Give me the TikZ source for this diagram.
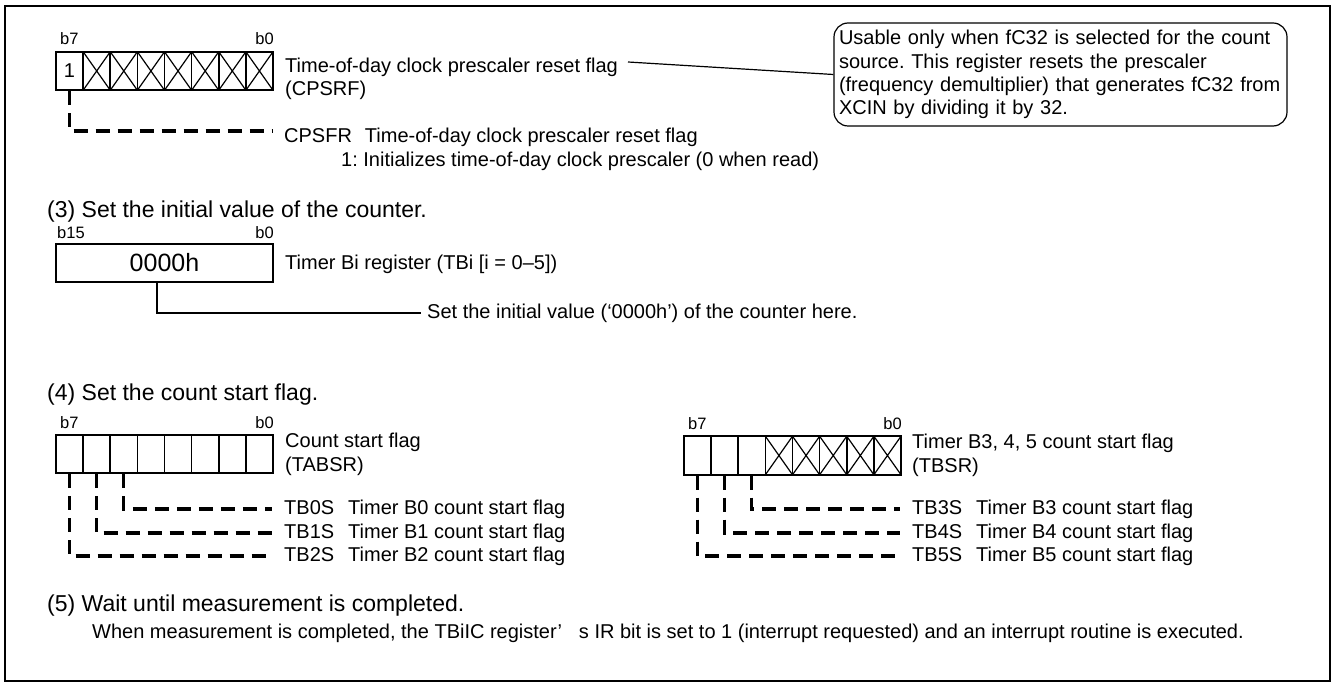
\documentclass[tikz,border=0pt]{standalone}
\usepackage{fontspec}
\setmainfont{Liberation Sans}

\newcommand{\flaggap}{\hspace{0.7em}}

\begin{document}
\frenchspacing
\begin{tikzpicture}[
    x=1pt, y=-1pt,
    cell/.style={draw, line width=1.6pt, minimum width=27.125pt, minimum height=38.5pt, inner sep=0pt},
    xcell/.style={cell, path picture={
        \draw[line width=1.2pt] (path picture bounding box.north west) -- (path picture bounding box.south east)
            (path picture bounding box.north east) -- (path picture bounding box.south west);}},
    bitlbl/.style={inner sep=0pt, font=\fontsize{16.5}{19}\selectfont},
    lbl/.style={anchor=west, inner sep=0pt, align=left, font=\fontsize{20}{23.5}\selectfont},
    heading/.style={anchor=west, inner sep=0pt, font=\fontsize{23}{27}\selectfont},
    flagline/.style={line width=3.2pt, dash pattern=on 14pt off 8pt, shorten >=12pt}
]
    \useasboundingbox (0,0) rectangle (1338,684);
    % Frame
    \draw[line width=2.8pt] (5,6) rectangle (1330,681);

    % Prescaler reset register
    \node[cell, font=\fontsize{20}{23}\selectfont] (cps0) at (69.56,71) {1};
    \foreach \i in {1,...,7} {
        \node[xcell] (cps\i) at ({69.56+27.125*\i},71) {};
    }
    \node[bitlbl, anchor=base west] (cpsb7) at (60,45) {b7};
    \node[bitlbl, anchor=base east] (cpsb0) at (274,45) {b0};
    \node[lbl] (cpsrf) at (285,79) {Time-of-day clock prescaler reset flag\\(CPSRF)};
    \node[lbl] (cpsfr) at (284,137) {CPSFR\hspace{0.65em}Time-of-day clock prescaler reset flag};
    \node[lbl] (cpsfrval) at (341,161) {1: Initializes time-of-day clock prescaler (0 when read)};
    \draw[flagline] (cps0.south) |- ([yshift=6pt]cpsfr.west);

    % Note
    \node[draw, line width=1.2pt, rounded corners=14pt, minimum width=453pt, minimum height=103pt,
        text width=443pt, inner xsep=5pt, align=left, font=\fontsize{20}{23.3}\selectfont] (note) at (1060.5,74.5)
        {Usable only when fC32 is selected for the count\\
         source. This register resets the prescaler\\
         (frequency demultiplier) that generates fC32 from\\
         XCIN by dividing it by 32.};
    \coordinate (cpsrfend) at (628,62);
    \draw[line width=1.2pt] (cpsrfend) -- (note.west);

    % (3) Timer Bi register
    \node[heading] (step3) at (47,212) {(3) Set the initial value of the counter.};
    \node[draw, line width=1.6pt, minimum width=217pt, minimum height=38.5pt, inner sep=0pt,
        font=\fontsize{25}{28}\selectfont] (tbreg) at (164.5,263) {0000h};
    \node[bitlbl, anchor=base west] (tbb15) at (57,239) {b15};
    \node[bitlbl, anchor=base east] (tbb0) at (274,239) {b0};
    \node[lbl] (tbname) at (285,264) {Timer Bi register (TBi [i = 0–5])};
    \node[lbl] (tbnote) at (427,313) {Set the initial value (‘0000h’) of the counter here.};
    \coordinate (tbtap) at (157,282);
    \draw[line width=1.4pt, shorten >=6pt] (tbtap) |- (tbnote.west);

    % (4) Count start flags
    \node[heading] (step4) at (47,395) {(4) Set the count start flag.};

    \foreach \i in {0,...,7} {
        \node[cell] (tab\i) at ({69.56+27.125*\i},454) {};
    }
    \node[bitlbl, anchor=base west] (tabb7) at (60,428) {b7};
    \node[bitlbl, anchor=base east] (tabb0) at (274,428) {b0};
    \node[lbl] (tabsr) at (285,454.5) {Count start flag\\(TABSR)};
    \node[lbl] (tb0s) at (284,509) {TB0S\flaggap Timer B0 count start flag};
    \node[lbl] (tb1s) at (284,533) {TB1S\flaggap Timer B1 count start flag};
    \node[lbl] (tb2s) at (284,556) {TB2S\flaggap Timer B2 count start flag};
    \draw[flagline] (tab2.south) |- (tb0s.west);
    \draw[flagline] (tab1.south) |- (tb1s.west);
    \draw[flagline] (tab0.south) |- (tb2s.west);

    \foreach \i in {0,...,2} {
        \node[cell] (tbs\i) at ({697.56+27.125*\i},455.5) {};
    }
    \foreach \i in {3,...,7} {
        \node[xcell] (tbs\i) at ({697.56+27.125*\i},455.5) {};
    }
    \node[bitlbl, anchor=base west] (tbsb7) at (688,429) {b7};
    \node[bitlbl, anchor=base east] (tbsb0) at (902,429) {b0};
    \node[lbl] (tbsr) at (912,455.5) {Timer B3, 4, 5 count start flag\\(TBSR)};
    \node[lbl] (tb3s) at (912,509) {TB3S\flaggap Timer B3 count start flag};
    \node[lbl] (tb4s) at (912,533) {TB4S\flaggap Timer B4 count start flag};
    \node[lbl] (tb5s) at (912,556) {TB5S\flaggap Timer B5 count start flag};
    \draw[flagline] (tbs2.south) |- (tb3s.west);
    \draw[flagline] (tbs1.south) |- (tb4s.west);
    \draw[flagline] (tbs0.south) |- (tb5s.west);

    % (5) Wait
    \node[heading] (step5) at (47,606) {(5) Wait until measurement is completed.};
    \node[lbl] (done) at (92,633) {When measurement is completed, the TBiIC register’\hspace{0.85em}s IR bit is set to 1 (interrupt requested) and an interrupt routine is executed.};
\end{tikzpicture}
\end{document}
